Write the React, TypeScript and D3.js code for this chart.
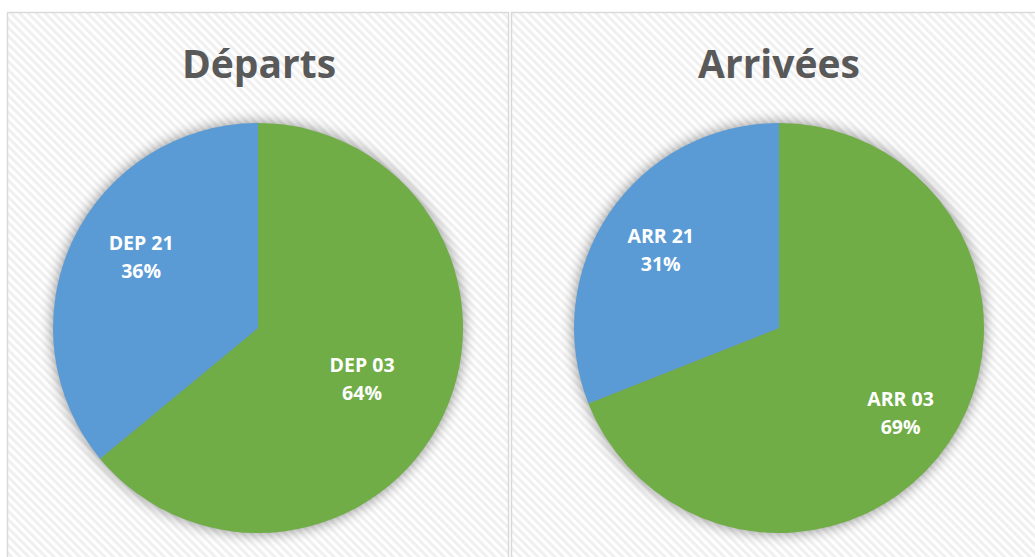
import React from "react";
import * as d3 from "d3";

const departLabels = ["DEP 03", "DEP 21"];
const departValues = [64, 36];
const arriveLabels = ["ARR 03", "ARR 21"];
const arriveValues = [69, 31];
const titles = ["Départs", "Arrivées"];
const colors = ["#70AD47", "#5B9BD5"];

const W = 1035;
const H = 557;

function Pie({ cx, cy, r, labels, values, title, titleX, labelR, labelShift }: any) {
  const pie = d3.pie<number>().sort(null).value((d) => d);
  const arcs = pie(values);
  const arc = d3.arc<d3.PieArcDatum<number>>().innerRadius(0).outerRadius(r);
  const total = d3.sum(values);
  return (
    <g>
      <text x={titleX} y={78} textAnchor="middle" fontFamily="'Open Sans', sans-serif" fontWeight="bold" fontSize={39} fill="#595959">{title}</text>
      <g transform={`translate(${cx},${cy})`}>
        <circle r={r} fill="#fff" filter={`url(#shadow)`} />
        {arcs.map((a, i) => (
          <path key={i} d={arc(a) || ""} fill={colors[i]} />
        ))}
        {arcs.map((a, i) => {
          const mid = (a.startAngle + a.endAngle) / 2;
          const lr = labelR[i];
          const x = Math.sin(mid) * lr + labelShift[i][0];
          const y = -Math.cos(mid) * lr + labelShift[i][1];
          return (
            <text key={"l" + i} x={x} y={y} textAnchor="middle" fontFamily="'Open Sans', sans-serif" fontWeight="bold" fontSize={19.5} fill="#fff">
              <tspan x={x} dy={-5}>{labels[i]}</tspan>
              <tspan x={x} dy={28}>{Math.round((values[i] / total) * 100) + "%"}</tspan>
            </text>
          );
        })}
      </g>
    </g>
  );
}

export default function App() {
  return (
    <svg width={W} height={H} style={{ position: "absolute", left: 0, top: 0 }}>
      <defs>
        <pattern id="stripes" width="6" height="6" patternUnits="userSpaceOnUse" patternTransform="rotate(45)">
          <rect width="6" height="6" fill="#ffffff" />
          <rect width="6" height="3" fill="#f0f0f0" />
        </pattern>
        <filter id="shadow" x="-30%" y="-30%" width="160%" height="160%">
          <feGaussianBlur in="SourceAlpha" stdDeviation="7" />
          <feComponentTransfer>
            <feFuncA type="linear" slope="0.45" />
          </feComponentTransfer>
        </filter>
      </defs>
      <rect width={W} height={H} fill="#fff" />
      <rect x={7.5} y={12.5} width={501} height={560} fill="url(#stripes)" stroke="#d9d9d9" strokeWidth={1.5} />
      <rect x={511.5} y={12.5} width={540} height={560} fill="url(#stripes)" stroke="#d9d9d9" strokeWidth={1.5} />
      <Pie cx={258} cy={328} r={205} labels={departLabels} values={departValues} title={titles[0]} titleX={259} labelR={[115, 138]} labelShift={[[0, 0], [8, -14]]} />
      <Pie cx={779} cy={328} r={205} labels={arriveLabels} values={arriveValues} title={titles[1]} titleX={779} labelR={[147, 143]} labelShift={[[0, 0], [0, 0]]} />
    </svg>
  );
}
